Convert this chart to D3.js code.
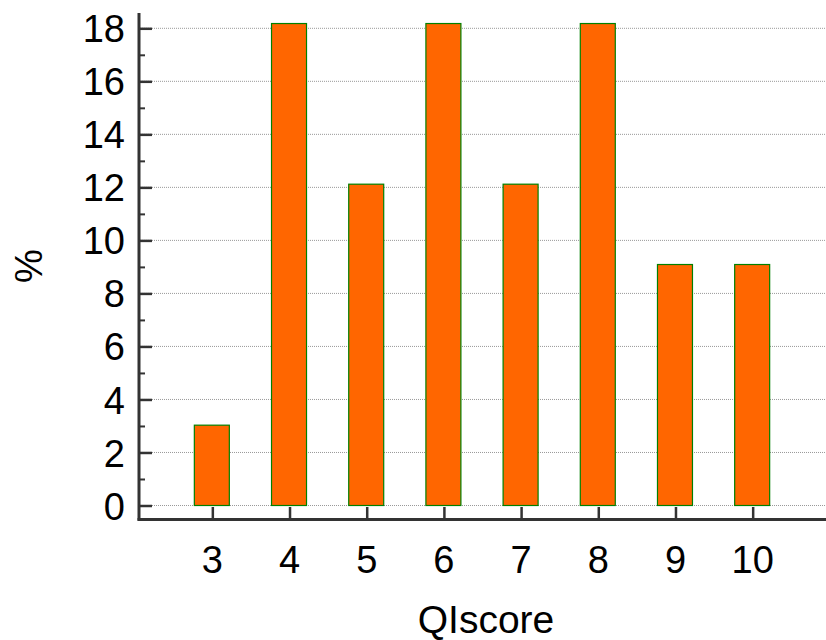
<!DOCTYPE html>
<html>
<head>
<meta charset="utf-8">
<script src="https://cdn.jsdelivr.net/npm/d3@7"></script>
<style>
  body { margin: 0; background: #fff; }
  svg { display: block; font-family: "Liberation Sans", Arial, sans-serif; }
</style>
</head>
<body>
<div id="chart"></div>
<script>
// data
const scores = [3, 4, 5, 6, 7, 8, 9, 10];
const percents = [3.03, 18.18, 12.12, 18.18, 12.12, 18.18, 9.09, 9.09];
const yTicks = [0, 2, 4, 6, 8, 10, 12, 14, 16, 18];
const yMinorTicks = [1, 3, 5, 7, 9, 11, 13, 15, 17];

const width = 826, height = 640;

const svg = d3.select("#chart").append("svg")
    .attr("width", width)
    .attr("height", height);

const xScale = d3.scaleLinear()
    .domain([2.05, 10.95])
    .range([139, 826]);

const yScale = d3.scaleLinear()
    .domain([0, 18])
    .range([505.5, 28.3]);

// grid lines
svg.append("g")
    .selectAll("line")
    .data(yTicks)
    .join("line")
    .attr("x1", 140)
    .attr("x2", width)
    .attr("y1", d => yScale(d))
    .attr("y2", d => yScale(d))
    .attr("stroke", "#999")
    .attr("stroke-width", 1)
    .attr("stroke-dasharray", "1,1");

// bars
const barW = 35;
svg.append("g")
    .selectAll("rect")
    .data(percents)
    .join("rect")
    .attr("x", (d, i) => xScale(scores[i]) - barW / 2 - 0.5)
    .attr("y", d => yScale(d))
    .attr("width", barW)
    .attr("height", d => yScale(0) - yScale(d))
    .attr("fill", "#ff6600")
    .attr("stroke", "#008000")
    .attr("stroke-width", 1.2);

// y axis
const yAxis = svg.append("g")
    .attr("transform", "translate(139,0)")
    .call(d3.axisRight(yScale).tickValues(yTicks).tickSize(13).tickFormat(""));
yAxis.select(".domain").remove();
yAxis.selectAll("line").attr("stroke", "#333").attr("stroke-width", 2.5);

const yMinor = svg.append("g")
    .attr("transform", "translate(139,0)")
    .call(d3.axisRight(yScale).tickValues(yMinorTicks).tickSize(6).tickFormat(""));
yMinor.select(".domain").remove();
yMinor.selectAll("line").attr("stroke", "#333").attr("stroke-width", 2);

svg.append("g")
    .selectAll("text")
    .data(yTicks)
    .join("text")
    .attr("x", 125)
    .attr("y", d => yScale(d))
    .attr("dy", "0.37em")
    .attr("text-anchor", "end")
    .attr("font-size", 38)
    .text(d => d);

svg.append("line")
    .attr("x1", 139).attr("x2", 139)
    .attr("y1", 13).attr("y2", 520.5)
    .attr("stroke", "#333").attr("stroke-width", 3);

// x axis
const xAxis = svg.append("g")
    .attr("transform", "translate(0,519)")
    .call(d3.axisTop(xScale).tickValues(scores).tickSize(12).tickFormat(""));
xAxis.select(".domain").remove();
xAxis.selectAll("line").attr("stroke", "#333").attr("stroke-width", 2.5);

svg.append("line")
    .attr("x1", 137.5).attr("x2", width)
    .attr("y1", 519.5).attr("y2", 519.5)
    .attr("stroke", "#333").attr("stroke-width", 3);

svg.append("g")
    .selectAll("text")
    .data(scores)
    .join("text")
    .attr("x", d => xScale(d))
    .attr("y", 573)
    .attr("text-anchor", "middle")
    .attr("font-size", 38)
    .text(d => d);

// axis titles
svg.append("text")
    .attr("x", 486)
    .attr("y", 633)
    .attr("text-anchor", "middle")
    .attr("font-size", 39)
    .text("QIscore");

svg.append("text")
    .attr("transform", "translate(42,266) rotate(-90)")
    .attr("text-anchor", "middle")
    .attr("font-size", 38)
    .text("%");
</script>
</body>
</html>
